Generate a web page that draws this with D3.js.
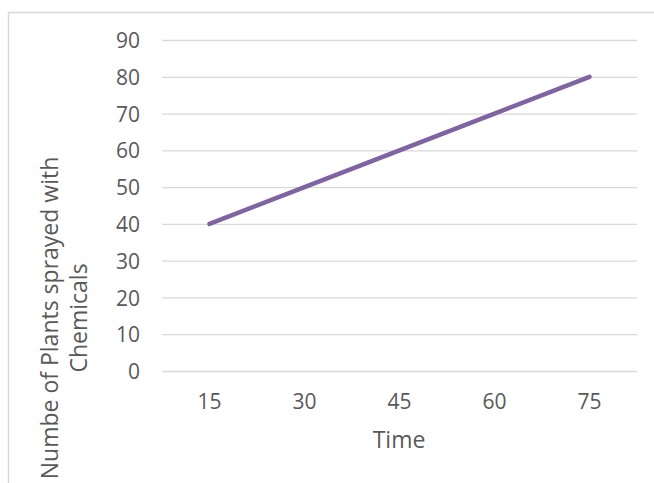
<!DOCTYPE html>
<html><head><meta charset="utf-8">
<script src="https://cdn.jsdelivr.net/npm/d3@7"></script>
<style>body{margin:0;background:#fff}svg{display:block}text{font-family:"Open Sans",sans-serif;fill:#595959}</style>
</head><body><svg id="c" width="654" height="483"></svg>
<script>
const categories = ["15","30","45","60","75"];
const values = [40,50,60,70,80];
const yTicks = [0,10,20,30,40,50,60,70,80,90];
const xTitle = "Time";
const yTitleLines = ["Numbe of Plants sprayed with","Chemicals"];

const svg = d3.select("#c");
svg.append("rect").attr("x",8.5).attr("y",12.5).attr("width",800).attr("height",600)
  .attr("fill","none").attr("stroke","#D9D9D9").attr("stroke-width",1.5);

const x = d3.scaleBand().domain(categories).range([162,637]);
const y = d3.scaleLinear().domain([0,90]).range([371,40]);

const gy = svg.append("g").attr("transform","translate(162,0)")
  .call(d3.axisLeft(y).tickValues(yTicks).tickSize(-475).tickPadding(22));
gy.select(".domain").remove();
gy.selectAll("line").attr("stroke","#D9D9D9").attr("stroke-width",1.3);
gy.selectAll("text").style("font-size","21px").attr("fill","#595959").attr("dy","0.36em");

const gx = svg.append("g").attr("transform","translate(0,371)")
  .call(d3.axisBottom(x).tickSize(0));
gx.select(".domain").remove();
gx.selectAll("text").style("font-size","21px").attr("fill","#595959").attr("dy",null).attr("y",38);

svg.append("text").attr("x",399).attr("y",448).attr("text-anchor","middle")
  .style("font-size","23px").text(xTitle);

const yt = svg.append("text").attr("transform","translate(0,318) rotate(-90)").attr("text-anchor","middle")
  .style("font-size","23px");
yt.selectAll("tspan").data(yTitleLines).join("tspan")
  .attr("x",0).attr("y",(d,i)=>58+i*29).text(d=>d);

const line = d3.line().x((d,i)=>x(categories[i])+x.bandwidth()/2).y(d=>y(d));
svg.append("path").datum(values).attr("d",line).attr("fill","none")
  .attr("stroke","#8064A2").attr("stroke-width",4.5).attr("stroke-linecap","round");
</script></body></html>
